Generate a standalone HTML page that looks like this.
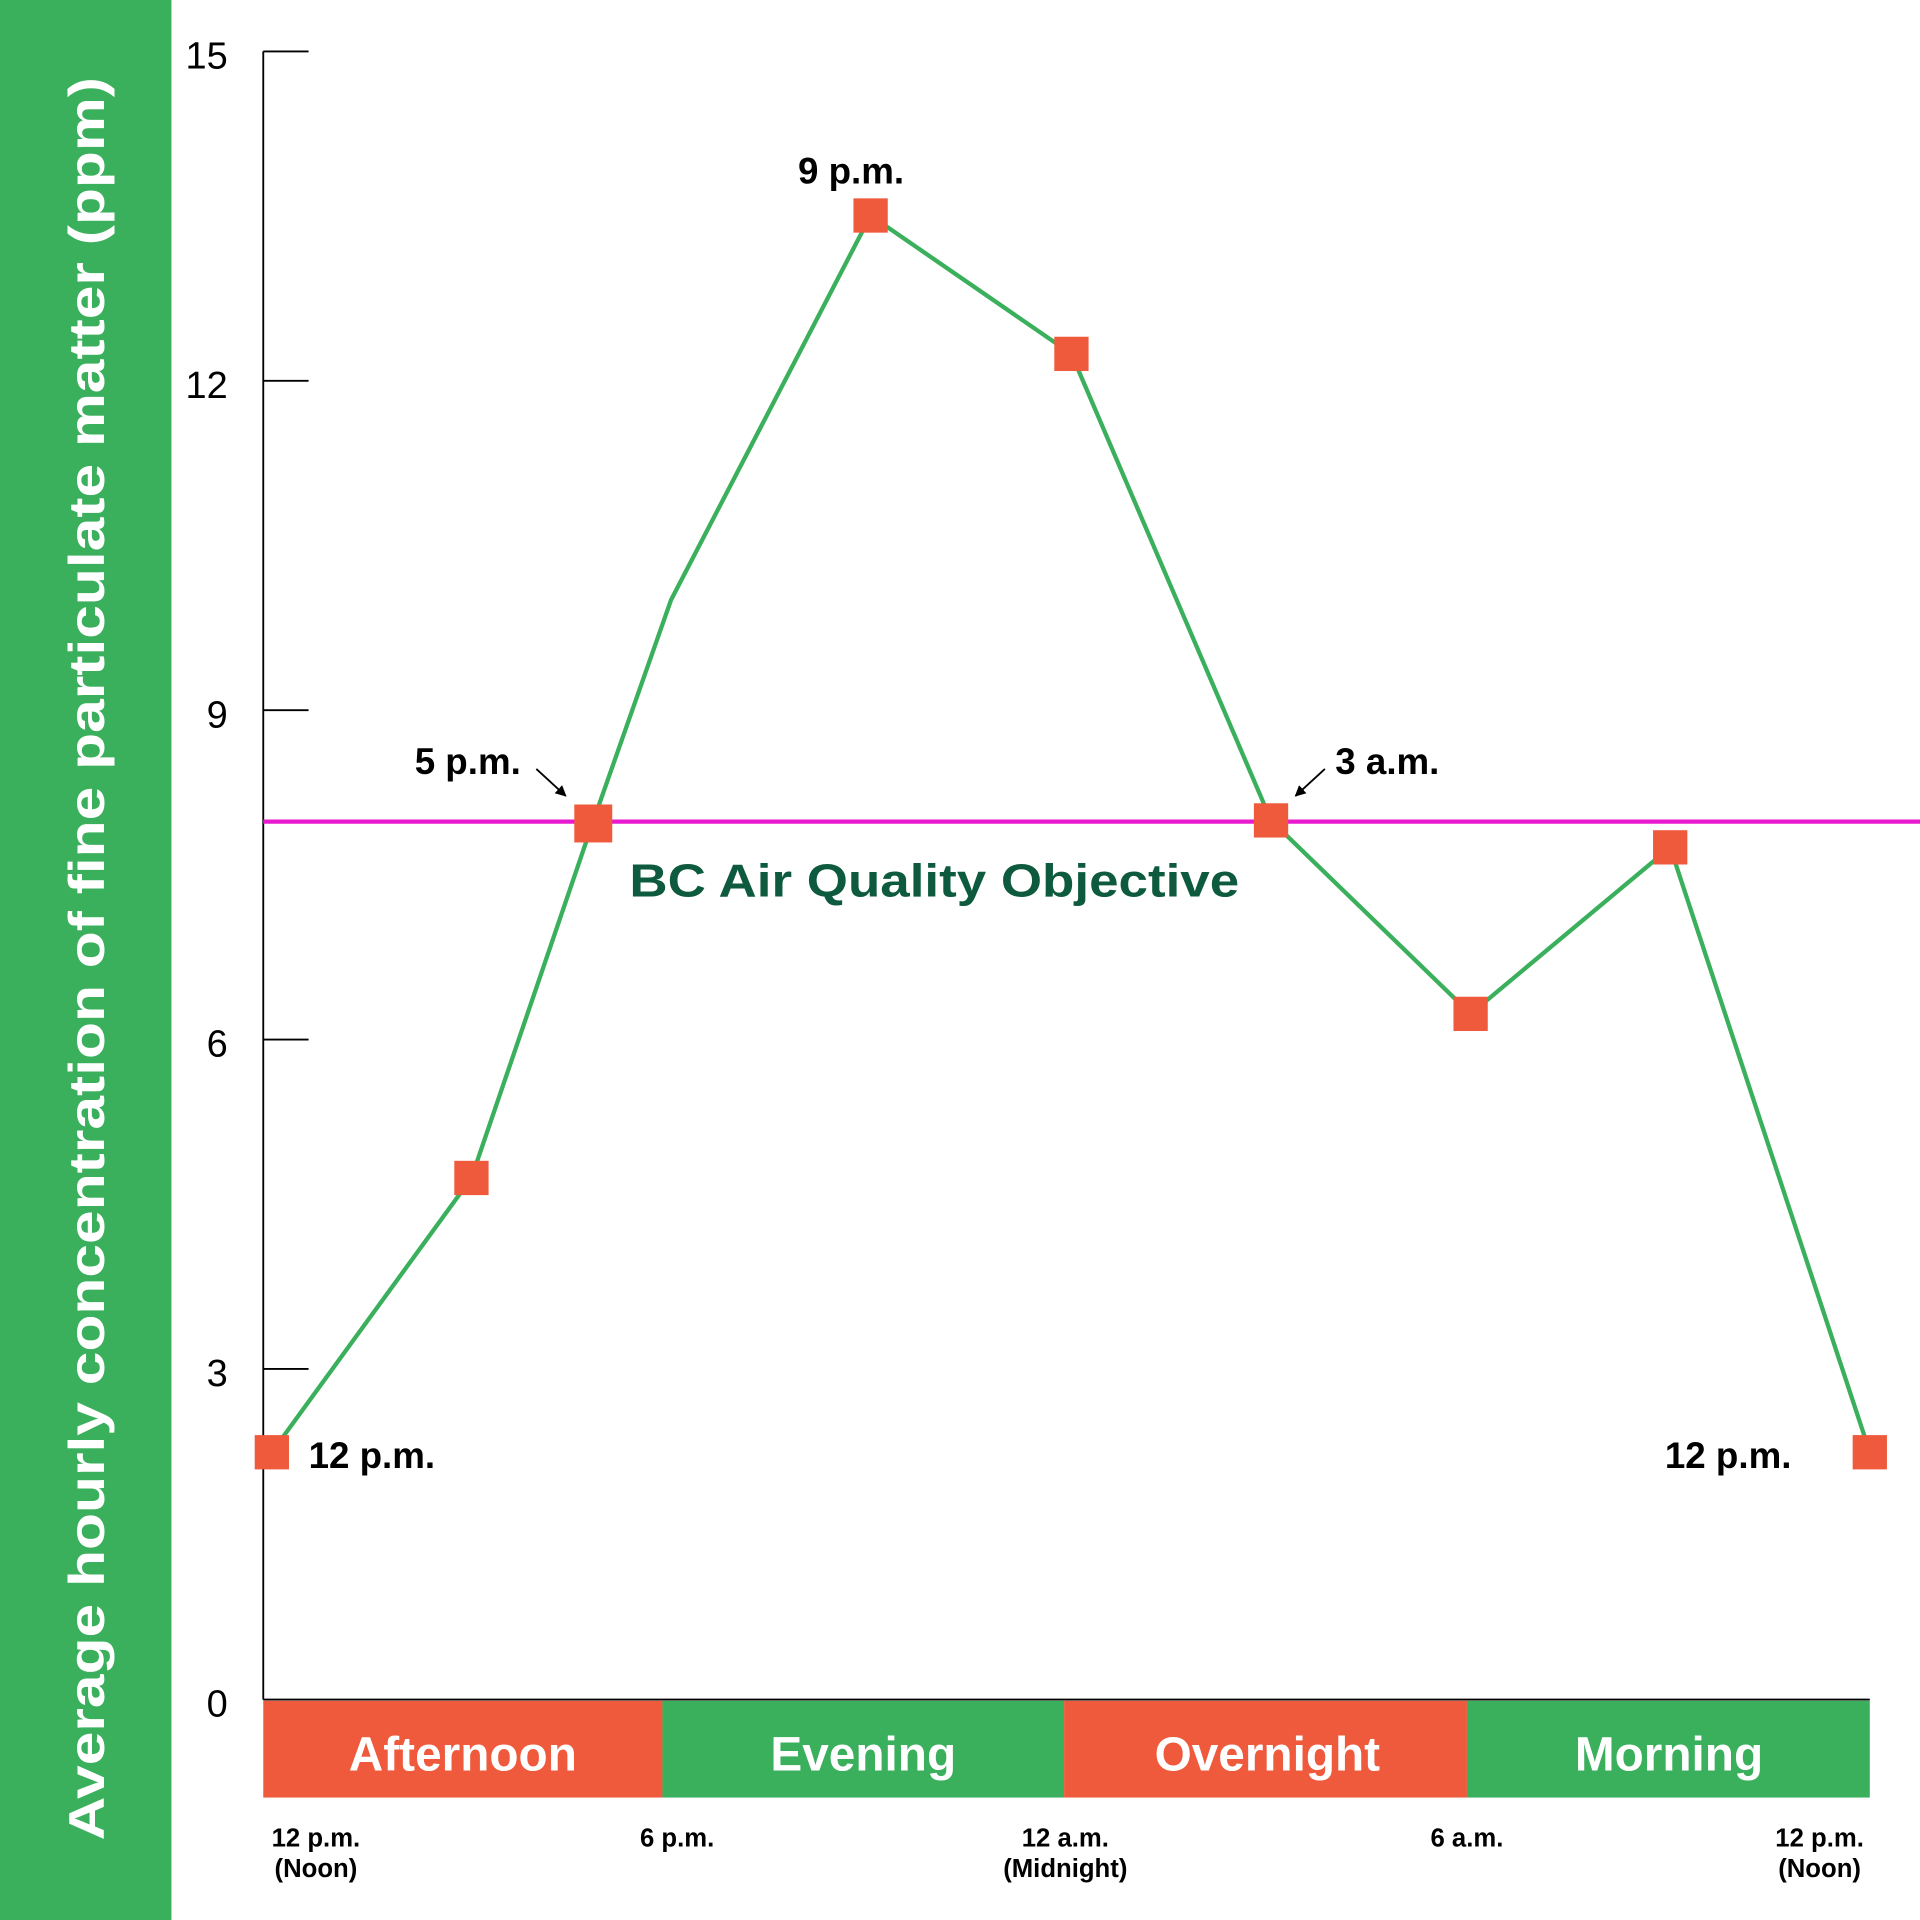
<!DOCTYPE html>
<html><head><meta charset="utf-8"><style>html,body{margin:0;padding:0;background:#fff}svg{display:block}</style></head>
<body>
<svg width="1920" height="1920" viewBox="0 0 1568 1568" xmlns="http://www.w3.org/2000/svg" font-family="Liberation Sans, sans-serif">
<defs><marker id="ah" viewBox="0 0 10 10" refX="9" refY="5" markerWidth="6" markerHeight="6" orient="auto"><path d="M0,0L10,5L0,10z" fill="#000"/></marker></defs>
<rect x="0" y="0" width="140" height="1568" fill="#3aaf5c"/>
<text transform="translate(85,783) rotate(-90)" text-anchor="middle" fill="#fff" font-size="41" font-weight="bold" textLength="1440" lengthAdjust="spacingAndGlyphs">Average hourly concentration of fine particulate matter (ppm)</text>
<g stroke="#000" stroke-width="1.5">
<line x1="215" y1="42" x2="215" y2="1388"/>
<line x1="215" y1="42" x2="252" y2="42"/>
<line x1="215" y1="311" x2="252" y2="311"/>
<line x1="215" y1="580" x2="252" y2="580"/>
<line x1="215" y1="849" x2="252" y2="849"/>
<line x1="215" y1="1118" x2="252" y2="1118"/>
<line x1="215" y1="1388" x2="1527" y2="1388"/>
</g>
<g font-size="31" text-anchor="end" fill="#000">
<text x="186" y="56">15</text><text x="186" y="325">12</text><text x="186" y="594">9</text><text x="186" y="863">6</text><text x="186" y="1132">3</text><text x="186" y="1402">0</text>
</g>
<line x1="215" y1="671" x2="1568" y2="671" stroke="#e81ad0" stroke-width="3.5"/>
<polyline fill="none" stroke="#3aaf5c" stroke-width="3.5" points="222,1186 385,962 484,672 548,490 711,176 875,289 1038,670 1201,828 1364,692 1527,1186"/>
<g fill="#ef5a3c">
<rect x="208" y="1172" width="28" height="28"/><rect x="371" y="948" width="28" height="28"/><rect x="469" y="657" width="31" height="31"/><rect x="697" y="162" width="28" height="28"/><rect x="861" y="275" width="28" height="28"/><rect x="1024" y="656" width="28" height="28"/><rect x="1187" y="814" width="28" height="28"/><rect x="1350" y="678" width="28" height="28"/><rect x="1513" y="1172" width="28" height="28"/>
</g>
<g font-weight="bold" font-size="30" fill="#000">
<text x="695" y="150" text-anchor="middle">9 p.m.</text>
<text x="382" y="632" text-anchor="middle">5 p.m.</text>
<text x="1133" y="632" text-anchor="middle">3 a.m.</text>
<text x="252" y="1199">12 p.m.</text>
<text x="1463" y="1199" text-anchor="end">12 p.m.</text>
</g>
<line x1="438" y1="628" x2="462" y2="650" stroke="#000" stroke-width="1.5" marker-end="url(#ah)"/>
<line x1="1082" y1="628" x2="1058" y2="650" stroke="#000" stroke-width="1.5" marker-end="url(#ah)"/>
<text x="514" y="732" font-weight="bold" font-size="38" fill="#0e5a3e" textLength="498" lengthAdjust="spacingAndGlyphs">BC Air Quality Objective</text>
<rect x="215" y="1389" width="326" height="79" fill="#ef5a3c"/>
<rect x="541" y="1389" width="328" height="79" fill="#3aaf5c"/>
<rect x="869" y="1389" width="329" height="79" fill="#ef5a3c"/>
<rect x="1198" y="1389" width="329" height="79" fill="#3aaf5c"/>
<g font-weight="bold" font-size="39" fill="#fff" text-anchor="middle">
<text x="378" y="1446">Afternoon</text><text x="705" y="1446">Evening</text><text x="1035" y="1446">Overnight</text><text x="1363" y="1446">Morning</text>
</g>
<g font-weight="bold" font-size="21" fill="#000" text-anchor="middle">
<text x="258" y="1508">12 p.m.</text><text x="258" y="1533">(Noon)</text>
<text x="553" y="1508">6 p.m.</text>
<text x="870" y="1508">12 a.m.</text><text x="870" y="1533">(Midnight)</text>
<text x="1198" y="1508">6 a.m.</text>
<text x="1486" y="1508">12 p.m.</text><text x="1486" y="1533">(Noon)</text>
</g>
</svg>
</body></html>
